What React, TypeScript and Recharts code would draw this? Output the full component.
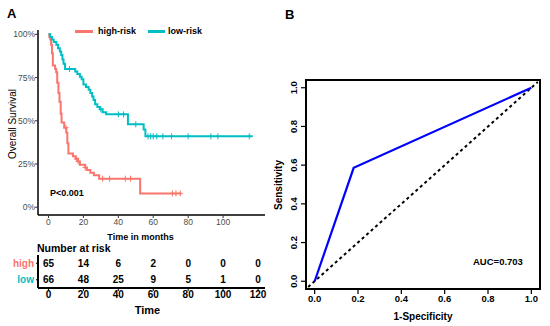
import { ComposedChart, Line, Scatter, XAxis, YAxis, ReferenceArea, ReferenceLine, Label } from "recharts";

const HIGH_COLOR = "#F8766D";
const LOW_COLOR = "#00BFC4";
const FONT = '"Liberation Sans", Arial, Helvetica, sans-serif';

// Kaplan-Meier steps (months, survival)
const highTimes = [0, 0.5, 1, 1.5, 2, 2.5, 3.8, 4.4, 5, 5.7, 6.3, 7, 7.5, 9, 10.2, 10.8, 11.4, 14, 15.5, 17, 18, 21, 22, 24, 26, 29, 52.5, 76];
const highSurv = [1, 0.985, 0.97, 0.94, 0.89, 0.82, 0.8, 0.78, 0.72, 0.66, 0.61, 0.54, 0.49, 0.46, 0.43, 0.37, 0.31, 0.295, 0.28, 0.265, 0.245, 0.23, 0.215, 0.2, 0.185, 0.165, 0.08, 0.08];
const highCensor = [10, 16, 17, 21, 31, 35, 44, 47, 71, 73, 75.5];

const lowTimes = [0, 1, 2, 3, 4.5, 5.5, 6.5, 7.3, 8, 8.6, 9.5, 15.3, 16.5, 18, 19, 20, 21.5, 23, 24, 25, 25.8, 26.7, 28, 29.5, 31, 33, 45.5, 54.5, 55.5, 117];
const lowSurv = [1, 0.985, 0.97, 0.955, 0.94, 0.92, 0.9, 0.88, 0.855, 0.83, 0.8, 0.785, 0.77, 0.755, 0.74, 0.71, 0.695, 0.68, 0.66, 0.64, 0.62, 0.595, 0.58, 0.566, 0.55, 0.537, 0.48, 0.45, 0.41, 0.41];
const lowCensor = [12, 30, 40, 43, 50, 57, 58.5, 60, 62, 65.5, 70.5, 80, 93, 97, 115];

const kmTicksX = [0, 20, 40, 60, 80, 100];
const kmTicksY = [0, 0.25, 0.5, 0.75, 1];

// number at risk table
const riskTimes = [0, 20, 40, 60, 80, 100, 120];
const riskHigh = [65, 14, 6, 2, 0, 0, 0];
const riskLow = [66, 48, 25, 9, 5, 1, 0];

// ROC
const rocFpr = [0, 0.18, 1];
const rocTpr = [0, 0.586, 1];
const rocTicks = [0, 0.2, 0.4, 0.6, 0.8, 1];

const survAt = (times: number[], surv: number[], t: number) => {
  let s = surv[0];
  times.forEach((tt, i) => {
    if (tt <= t) s = surv[i];
  });
  return s;
};

const highData = highTimes.map((t, i) => ({ t, s: highSurv[i] }));
const lowData = lowTimes.map((t, i) => ({ t, s: lowSurv[i] }));
const highCens = highCensor.map((t) => ({ t, s: survAt(highTimes, highSurv, t) }));
const lowCens = lowCensor.map((t) => ({ t, s: survAt(lowTimes, lowSurv, t) }));

const riskHighData = riskTimes.map((t, i) => ({ t, row: 1.5, n: riskHigh[i] }));
const riskLowData = riskTimes.map((t, i) => ({ t, row: 0.5, n: riskLow[i] }));

const rocData = rocFpr.map((x, i) => ({ x, y: rocTpr[i] }));

const CensorMark = (color: string) => (props: any) => {
  const { cx, cy } = props;
  return (
    <g>
      <line x1={cx} x2={cx} y1={cy - 3} y2={cy + 3} stroke={color} strokeWidth={1} />
      <line x1={cx - 2.5} x2={cx + 2.5} y1={cy} y2={cy} stroke={color} strokeWidth={1} />
    </g>
  );
};

const RiskNumber = (props: any) => {
  const { cx, cy, payload } = props;
  return (
    <text x={cx} y={cy} textAnchor="middle" dominantBaseline="central" fontSize={10} fontWeight="bold" fill="#000" fontFamily={FONT}>
      {payload.n}
    </text>
  );
};

const RiskRowTick = (props: any) => {
  const { x, y, payload } = props;
  const isHigh = payload.value > 1;
  return (
    <text x={x} y={y} textAnchor="end" dominantBaseline="central" fontSize={10} fontWeight="bold" fill={isHigh ? HIGH_COLOR : LOW_COLOR} fontFamily={FONT}>
      {isHigh ? "high" : "low"}
    </text>
  );
};

const RocYTick = (props: any) => {
  const { y, payload } = props;
  return (
    <text x={24} y={y} transform={`rotate(-90, 24, ${y})`} textAnchor="middle" dominantBaseline="central" fontSize={9.5} fontWeight="bold" fill="#000" fontFamily={FONT}>
      {payload.value.toFixed(1)}
    </text>
  );
};

function KMPanel() {
  return (
    <ComposedChart width={270} height={245} margin={{ top: 30, right: 5, left: 0, bottom: 0 }}>
      <XAxis
        dataKey="t"
        type="number"
        domain={[-6, 124]}
        ticks={kmTicksX}
        interval={0}
        allowDataOverflow
        tick={{ fontSize: 8.5, fill: "#4d4d4d", fontFamily: FONT }}
        tickSize={3}
        tickMargin={1}
        axisLine={{ stroke: "#000", strokeWidth: 1.5 }}
        tickLine={{ stroke: "#333" }}
      >
        <Label value="Time in months" position="insideBottom" offset={5} dx={-11} fontSize={9} fontWeight="bold" fill="#000" fontFamily={FONT} />
      </XAxis>
      <YAxis
        dataKey="s"
        type="number"
        width={38}
        domain={[-0.045, 1.025]}
        ticks={kmTicksY}
        interval={0}
        allowDataOverflow
        tickFormatter={(v: number) => `${Math.round(v * 100)}%`}
        tick={{ fontSize: 8.5, fill: "#4d4d4d", fontFamily: FONT }}
        tickSize={3}
        tickMargin={0}
        axisLine={{ stroke: "#000", strokeWidth: 1.5 }}
        tickLine={{ stroke: "#333" }}
      >
        <Label
          content={() => (
            <text x={12} y={124} transform="rotate(-90, 12, 124)" textAnchor="middle" dominantBaseline="central" fontSize={10} fill="#000" fontFamily={FONT}>
              Overall Survival
            </text>
          )}
        />
      </YAxis>
      <Line data={highData} dataKey="s" type="stepAfter" stroke={HIGH_COLOR} strokeWidth={2} dot={false} isAnimationActive={false} />
      <Line data={lowData} dataKey="s" type="stepAfter" stroke={LOW_COLOR} strokeWidth={2} dot={false} isAnimationActive={false} />
      <Scatter data={highCens} dataKey="s" shape={CensorMark(HIGH_COLOR)} isAnimationActive={false} />
      <Scatter data={lowCens} dataKey="s" shape={CensorMark(LOW_COLOR)} isAnimationActive={false} />
    </ComposedChart>
  );
}

function RiskTable() {
  return (
    <ComposedChart width={270} height={86} margin={{ top: 15, right: 5, left: 0, bottom: 0 }}>
      <XAxis
        dataKey="t"
        type="number"
        domain={[-6, 124]}
        ticks={riskTimes}
        interval={0}
        allowDataOverflow
        tick={{ fontSize: 10, fontWeight: "bold", fill: "#000", fontFamily: FONT }}
        tickSize={3}
        tickMargin={0}
        height={38}
        axisLine={{ stroke: "#000", strokeWidth: 2 }}
        tickLine={{ stroke: "#000" }}
      >
        <Label value="Time" position="insideBottom" offset={12} dx={-4} fontSize={11} fontWeight="bold" fill="#000" fontFamily={FONT} />
      </XAxis>
      <YAxis
        dataKey="row"
        type="number"
        width={38}
        domain={[0, 2]}
        ticks={[0.5, 1.5]}
        interval={0}
        tick={<RiskRowTick />}
        tickSize={2}
        tickMargin={2}
        axisLine={{ stroke: "#000", strokeWidth: 2 }}
        tickLine={{ stroke: "#000" }}
      />
      <Scatter data={riskHighData} dataKey="row" shape={RiskNumber} isAnimationActive={false} />
      <Scatter data={riskLowData} dataKey="row" shape={RiskNumber} isAnimationActive={false} />
    </ComposedChart>
  );
}

function RocPanel() {
  return (
    <ComposedChart width={280} height={326} margin={{ top: 80, right: 10, left: 0, bottom: 0 }}>
      <XAxis
        dataKey="x"
        type="number"
        domain={[-0.04, 1.04]}
        ticks={rocTicks}
        interval={0}
        allowDataOverflow
        height={37}
        tickFormatter={(v: number) => v.toFixed(1)}
        tick={{ fontSize: 9.5, fontWeight: "bold", fill: "#000", fontFamily: FONT }}
        tickSize={5}
        tickMargin={1}
        axisLine={false}
        tickLine={{ stroke: "#000", strokeWidth: 1.2 }}
      >
        <Label value="1-Specificity" position="insideBottom" offset={6} fontSize={10} fontWeight="bold" fill="#000" fontFamily={FONT} />
      </XAxis>
      <YAxis
        dataKey="y"
        type="number"
        width={36}
        domain={[-0.04, 1.04]}
        ticks={rocTicks}
        interval={0}
        allowDataOverflow
        tick={<RocYTick />}
        tickSize={5}
        axisLine={false}
        tickLine={{ stroke: "#000", strokeWidth: 1.2 }}
      >
        <Label
          content={() => (
            <text x={8} y={185} transform="rotate(-90, 8, 185)" textAnchor="middle" dominantBaseline="central" fontSize={10} fontWeight="bold" fill="#000" fontFamily={FONT}>
              Sensitivity
            </text>
          )}
        />
      </YAxis>
      <ReferenceArea x1={-0.04} x2={1.04} y1={-0.04} y2={1.04} fill="none" stroke="#000" strokeWidth={2} ifOverflow="visible" />
      <ReferenceLine
        segment={[
          { x: -0.03, y: -0.03 },
          { x: 1.03, y: 1.03 },
        ]}
        stroke="#000"
        strokeWidth={2}
        strokeDasharray="3 3"
      />
      <Line data={rocData} dataKey="y" type="linear" stroke="#0000FF" strokeWidth={2.2} dot={false} isAnimationActive={false} />
    </ComposedChart>
  );
}

export default function App() {
  return (
    <div style={{ position: "absolute", left: 0, top: 0, width: 550, height: 326, background: "#fff", fontFamily: FONT, overflow: "hidden" }}>
      <div style={{ position: "absolute", left: 0, top: 0 }}>
        <KMPanel />
      </div>
      <div style={{ position: "absolute", left: 0, top: 240 }}>
        <RiskTable />
      </div>
      <div style={{ position: "absolute", left: 270, top: 0 }}>
        <RocPanel />
      </div>

      <div style={{ position: "absolute", left: 7, top: 6, fontSize: 13, fontWeight: "bold", lineHeight: "16px" }}>A</div>
      <div style={{ position: "absolute", left: 285, top: 7, fontSize: 13, fontWeight: "bold", lineHeight: "16px" }}>B</div>

      <div style={{ position: "absolute", left: 75, top: 30, width: 18, height: 2.5, background: HIGH_COLOR }} />
      <div style={{ position: "absolute", left: 98, top: 25, fontSize: 9, fontWeight: "bold", lineHeight: "12px" }}>high-risk</div>
      <div style={{ position: "absolute", left: 148, top: 30, width: 17, height: 2.5, background: LOW_COLOR }} />
      <div style={{ position: "absolute", left: 168, top: 25, fontSize: 9, fontWeight: "bold", lineHeight: "12px" }}>low-risk</div>

      <div style={{ position: "absolute", left: 50, top: 187, fontSize: 9, fontWeight: "bold", lineHeight: "12px" }}>P&lt;0.001</div>
      <div style={{ position: "absolute", left: 37, top: 242, fontSize: 10.5, fontWeight: "bold", lineHeight: "12px" }}>Number at risk</div>
      <div style={{ position: "absolute", left: 473, top: 256, fontSize: 9.5, fontWeight: "bold", lineHeight: "12px" }}>AUC=0.703</div>
    </div>
  );
}
